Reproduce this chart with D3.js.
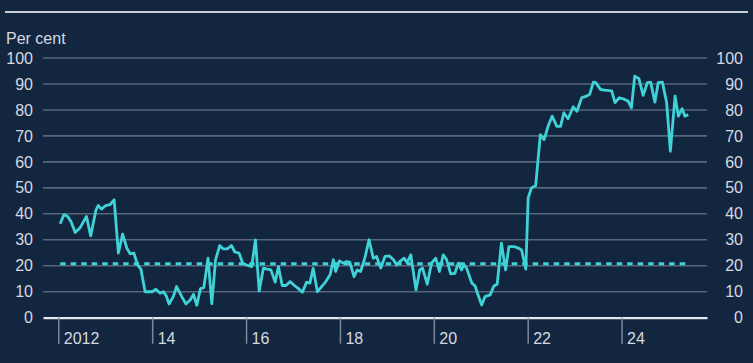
<!DOCTYPE html>
<html>
<head>
<meta charset="utf-8">
<script src="https://cdn.jsdelivr.net/npm/d3@7"></script>
<style>
  body { margin: 0; background: #13263f; }
  text { font-family: "Liberation Sans", Arial, sans-serif; }
</style>
</head>
<body>
<script>
    // share of ... (per cent), dates as decimal years
    const dates = [
        2012.04, 2012.12, 2012.20, 2012.27, 2012.36, 2012.46, 2012.60, 2012.69, 2012.80, 2012.85,
        2012.92, 2013.01, 2013.10, 2013.19, 2013.28, 2013.37, 2013.46, 2013.53, 2013.61, 2013.69,
        2013.76, 2013.85, 2014.00, 2014.08, 2014.17, 2014.24, 2014.30, 2014.36, 2014.45, 2014.52,
        2014.63, 2014.72, 2014.81, 2014.88, 2014.95, 2015.03, 2015.10, 2015.19, 2015.27, 2015.35,
        2015.44, 2015.51, 2015.60, 2015.69, 2015.76, 2015.85, 2015.93, 2016.01, 2016.12, 2016.20,
        2016.28, 2016.37, 2016.45, 2016.53, 2016.62, 2016.69, 2016.77, 2016.85, 2016.94, 2017.03,
        2017.11, 2017.20, 2017.29, 2017.36, 2017.43, 2017.52, 2017.61, 2017.70, 2017.79, 2017.86,
        2017.91, 2017.99, 2018.07, 2018.14, 2018.21, 2018.30, 2018.37, 2018.44, 2018.53, 2018.62,
        2018.71, 2018.78, 2018.87, 2018.96, 2019.05, 2019.14, 2019.21, 2019.29, 2019.37, 2019.43,
        2019.51, 2019.62, 2019.70, 2019.76, 2019.86, 2019.95, 2020.04, 2020.12, 2020.20, 2020.27,
        2020.36, 2020.45, 2020.52, 2020.59, 2020.64, 2020.70, 2020.81, 2020.88, 2020.93, 2021.02,
        2021.09, 2021.20, 2021.28, 2021.35, 2021.44, 2021.53, 2021.60, 2021.71, 2021.80, 2021.87,
        2021.96, 2022.01, 2022.08, 2022.17, 2022.27, 2022.35, 2022.44, 2022.52, 2022.62, 2022.70,
        2022.77, 2022.86, 2022.97, 2023.05, 2023.15, 2023.25, 2023.32, 2023.40, 2023.45, 2023.55,
        2023.64, 2023.79, 2023.86, 2023.95, 2024.03, 2024.14, 2024.21, 2024.28, 2024.37, 2024.46,
        2024.55, 2024.62, 2024.71, 2024.78, 2024.87, 2024.96, 2025.04, 2025.14, 2025.21, 2025.29,
        2025.35, 2025.42
    ];
    const values = [
        36.2, 39.7, 39.0, 37.0, 32.8, 34.5, 39.0, 31.5, 41.3, 43.2,
        41.8, 43.2, 43.5, 45.4, 24.9, 32.2, 26.8, 24.6, 24.9, 20.3,
        18.7, 10.0, 10.0, 11.0, 9.4, 10.0, 8.4, 5.3, 8.1, 12.0,
        8.1, 5.3, 6.8, 9.0, 4.8, 11.2, 11.6, 22.9, 5.4, 22.3,
        27.8, 26.5, 26.5, 27.8, 25.3, 24.9, 21.0, 20.3, 19.7, 30.0,
        10.3, 19.1, 18.7, 18.4, 13.7, 19.7, 12.4, 12.4, 13.9, 12.4,
        11.3, 9.8, 13.7, 13.3, 19.0, 10.0, 12.0, 13.9, 16.5, 22.3,
        17.8, 21.9, 21.0, 21.6, 21.4, 15.8, 18.4, 17.8, 22.9, 30.0,
        22.9, 23.6, 19.1, 23.6, 23.8, 22.3, 20.3, 21.9, 22.9, 21.2,
        24.2, 10.7, 18.4, 19.1, 12.9, 21.0, 22.9, 17.8, 24.2, 22.5,
        16.9, 17.1, 21.0, 18.4, 20.5, 19.0, 13.3, 12.2, 9.4, 4.9,
        8.1, 8.8, 12.2, 12.9, 28.7, 18.4, 27.4, 27.4, 26.8, 26.1,
        18.7, 46.1, 50.0, 50.9, 70.5, 68.6, 74.0, 77.6, 73.7, 73.7,
        78.9, 76.6, 81.2, 79.5, 84.7, 85.3, 86.0, 90.7, 90.5, 87.9,
        87.6, 87.3, 82.8, 84.7, 84.3, 83.4, 80.8, 93.0, 92.0, 85.6,
        90.5, 90.7, 83.0, 90.5, 90.7, 82.8, 64.1, 85.3, 77.6, 80.5,
        77.6, 78.2
    ];
    // dotted reference line
    const refValue = 20.8;
    const refStart = 2012.04, refEnd = 2025.40;

    const yTicks = [0, 10, 20, 30, 40, 50, 60, 70, 80, 90, 100];
    const xTicks = [2012, 2014, 2016, 2018, 2020, 2022, 2024];

    const W = 753, H = 363;
    const plot = {left: 43, right: 707, top: 58, bottom: 317.7};

    const svg = d3.select('body').append('svg')
        .attr('width', W)
        .attr('height', H);

    svg.append('rect')
        .attr('width', W).attr('height', H)
        .attr('fill', '#13263f');

    // top rule
    svg.append('line')
        .attr('x1', 5).attr('x2', 748)
        .attr('y1', 12).attr('y2', 12)
        .attr('stroke', '#c8ced7')
        .attr('stroke-width', 2);

    svg.append('text')
        .attr('x', 6).attr('y', 44)
        .attr('fill', '#d6dae0')
        .attr('font-size', '16px')
        .text('Per cent');

    const xScale = d3.scaleLinear()
        .domain([2011.674, 2025.82])
        .range([plot.left, plot.right]);

    const yScale = d3.scaleLinear()
        .domain([0, 100])
        .range([plot.bottom, plot.top]);

    // gridlines
    svg.append('g').selectAll('line')
        .data(yTicks.filter(d => d > 0))
        .enter().append('line')
            .attr('x1', plot.left).attr('x2', plot.right)
            .attr('y1', d => yScale(d)).attr('y2', d => yScale(d))
            .attr('stroke', '#56667c')
            .attr('stroke-width', 1.6);

    // y axes (labels only)
    const yLeft = svg.append('g')
        .attr('transform', `translate(${plot.left}, 0)`)
        .call(d3.axisLeft(yScale).tickValues(yTicks).tickSize(0).tickPadding(10));

    const yRight = svg.append('g')
        .attr('transform', `translate(${plot.right}, 0)`)
        .call(d3.axisRight(yScale).tickValues(yTicks).tickSize(0).tickPadding(36));
    yRight.selectAll('text').attr('text-anchor', 'end');

    [yLeft, yRight].forEach(g => {
        g.select('.domain').remove();
        g.selectAll('text')
            .attr('fill', '#d6dae0')
            .attr('font-size', '16px');
    });

    // dotted line
    svg.append('line')
        .attr('x1', xScale(refStart)).attr('x2', xScale(refEnd))
        .attr('y1', yScale(refValue)).attr('y2', yScale(refValue))
        .attr('stroke', '#3fd3d8')
        .attr('stroke-width', 3)
        .attr('stroke-dasharray', '5.5,5');

    // main line
    const line = d3.line()
        .x((d, i) => xScale(dates[i]))
        .y(d => yScale(d));

    svg.append('path')
        .datum(values)
        .attr('d', line)
        .attr('fill', 'none')
        .attr('stroke', '#3fd3d8')
        .attr('stroke-width', 2.8)
        .attr('stroke-linejoin', 'round');

    // x axis
    const xAxis = d3.axisBottom(xScale)
        .tickValues(xTicks)
        .tickSize(26)
        .tickSizeOuter(0)
        .tickPadding(0)
        .tickFormat(d => d === 2012 ? '2012' : String(d).slice(2));

    const xg = svg.append('g')
        .attr('transform', `translate(0, ${plot.bottom})`)
        .call(xAxis);

    xg.select('.domain')
        .attr('stroke', '#e4e7eb')
        .attr('stroke-width', 2.2);
    xg.selectAll('.tick line')
        .attr('stroke', '#7d899a')
        .attr('stroke-width', 1.5);
    xg.selectAll('.tick text')
        .attr('text-anchor', 'start')
        .attr('x', 5)
        .attr('y', 26)
        .attr('dy', 0)
        .attr('fill', '#d6dae0')
        .attr('font-size', '16px');
</script>
</body>
</html>
